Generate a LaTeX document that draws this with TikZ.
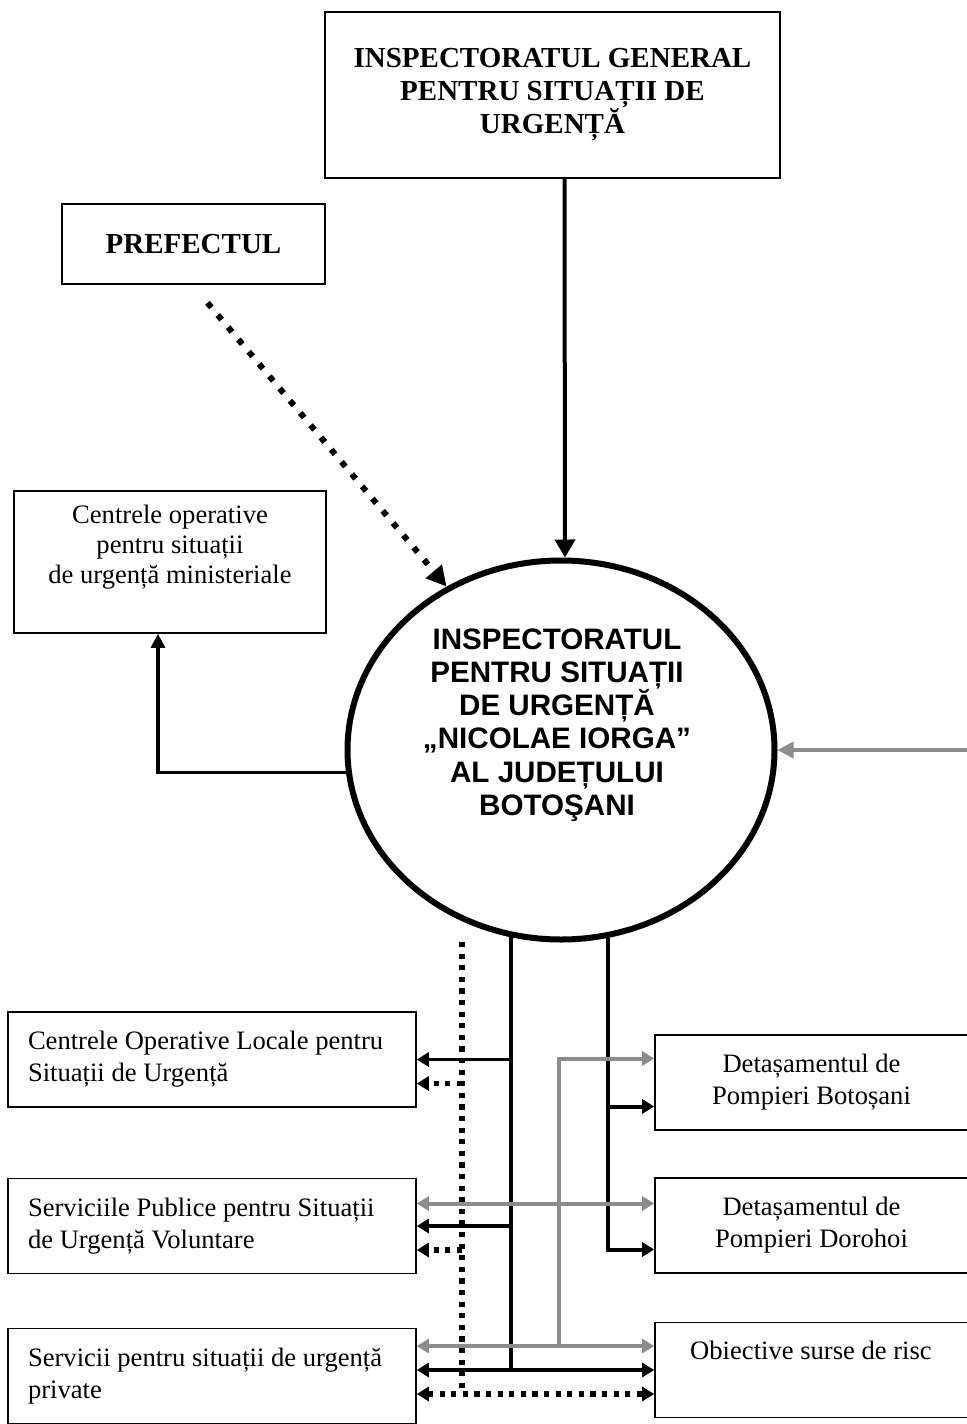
\documentclass[tikz,border=0pt]{standalone}
\usepackage{fontspec}
\setmainfont{Liberation Serif}
\newfontfamily\arialfont{Liberation Sans}
\usetikzlibrary{arrows.meta, shapes.geometric}
\definecolor{linkgray}{rgb}{0.55,0.55,0.55}

\tikzset{
  box/.style={draw, line width=0.8pt, inner sep=0pt},
  titletext/.style={font=\fontsize{14.5}{16.5}\selectfont\bfseries, align=center},
  plaintext/.style={font=\fontsize{13.3}{16}\selectfont},
  roundtext/.style={font=\arialfont\bfseries\fontsize{14.8}{16.6}\selectfont, align=center},
  leftbox/.style={box, minimum height=47.5pt, text width=184pt, inner xsep=10pt, align=flush left, plaintext},
  rightbox/.style={box, minimum width=156.5pt, minimum height=47.5pt, align=center, plaintext},
  link/.style={line width=1.8pt},
  greylink/.style={line width=2pt, linkgray},
  dotlink/.style={line width=2.6pt, dash pattern=on 2.6pt off 3.2pt},
}

\begin{document}
\begin{tikzpicture}[x=0.5pt, y=-0.5pt, >={Triangle[length=6pt, width=7pt]}]
    \useasboundingbox (0,0) rectangle (966,1424);

    % Upper boxes
    \node[box, titletext, minimum width=227.5pt, minimum height=83pt] (igsu) at (552.5,95) {INSPECTORATUL GENERAL\\PENTRU SITUAȚII DE\\URGENȚĂ};
    \node[box, titletext, minimum width=131.5pt, minimum height=40pt] (pref) at (193.5,244) {PREFECTUL};
    \node[box, minimum width=156pt, minimum height=71pt] (min) at (170,562) {};
    \node[font=\fontsize{13.3}{15}\selectfont, align=center] (mintxt) at (170,547) {Centrele operative\\pentru situații\\de urgență ministeriale};

    % The county inspectorate
    \node[draw, ellipse, line width=3pt, minimum width=213.5pt, minimum height=189.5pt, inner sep=0pt] (isu) at (561,750) {};
    \node[roundtext] (isutxt) at (557,725) {INSPECTORATUL\\PENTRU SITUAȚII\\DE URGENȚĂ\\„NICOLAE IORGA”\\AL JUDEȚULUI\\BOTOŞANI};

    % Lower boxes
    \node[leftbox] (L1) at (212,1059.5) {Centrele Operative Locale pentru\\Situații de Urgență};
    \node[leftbox] (L2) at (212,1226) {Serviciile Publice pentru Situații\\de Urgență Voluntare};
    \node[leftbox] (L3) at (212,1376) {Servicii pentru situații de urgență\\private};
    \node[rightbox] (R1) at (811.5,1082.5) {Detașamentul de\\Pompieri Botoșani};
    \node[rightbox] (R2) at (811.5,1225.5) {Detașamentul de\\Pompieri Dorohoi};
    \node[rightbox] (R3) at (811.5,1370) {};
    \node[plaintext] (R3txt) at (811,1350) {Obiective surse de risc};

    % Links to the inspectorate
    \draw[line width=2pt, -{Triangle[length=9pt, width=10pt]}] ([xshift=6pt]igsu.south) -- ([xshift=2pt]isu.north);
    \draw[line width=3pt, dash pattern=on 3pt off 5pt, -{Triangle[length=10pt, width=10pt]}] ([xshift=7pt, yshift=-9pt]pref.south) -- (isu.125);
    \draw[line width=1.6pt, -{Triangle[length=7pt, width=7pt]}] (isu.186) -| ([xshift=-6pt]min.south);
    \coordinate (rin) at (975,750);
    \draw[greylink, -{Triangle[length=8pt, width=8pt]}] (rin) -- (isu.east);

    % Trunks and rows
    \coordinate (lt) at (isu.255);
    \coordinate (rt) at (isu.284);
    \coordinate (dt) at (462,942);
    \coordinate (gt) at (559,1346);
    \coordinate (l1d) at ([yshift=-12pt]L1.east);
    \coordinate (l2d) at ([yshift=-12pt]L2.east);
    \coordinate (r1g) at ([yshift=12pt]R1.west);
    \coordinate (r1b) at ([yshift=-12pt]R1.west);
    \coordinate (r2g) at ([yshift=11pt]R2.west);
    \coordinate (r2b) at ([yshift=-12pt]R2.west);
    \coordinate (r3g) at ([yshift=12pt]R3.west);
    \coordinate (r3d) at ([yshift=-12pt]R3.west);

    % Black links
    \draw[link] (lt) -- (lt |- R3.west);
    \draw[link, ->] (lt |- L1.east) -- (L1.east);
    \draw[link, ->] (lt |- L2.east) -- (L2.east);
    \draw[link, <->] (L3.east |- R3.west) -- (R3.west);
    \draw[link, line width=2pt, ->] (rt) |- (r2b);
    \draw[link, line width=2pt, ->] (rt |- r1b) -- (r1b);

    % Grey links
    \draw[greylink, ->] (gt) |- (r1g);
    \draw[greylink, <->] (L2.east |- r2g) -- (r2g);
    \draw[greylink, <->] (L3.east |- r3g) -- (r3g);

    % Dotted links
    \draw[dotlink] (dt) -- (dt |- r3d);
    \draw[dotlink, ->] (dt |- l1d) -- (l1d);
    \draw[dotlink, ->] (dt |- l2d) -- (l2d);
    \draw[dotlink, <->] (L3.east |- r3d) -- (r3d);
\end{tikzpicture}
\end{document}
